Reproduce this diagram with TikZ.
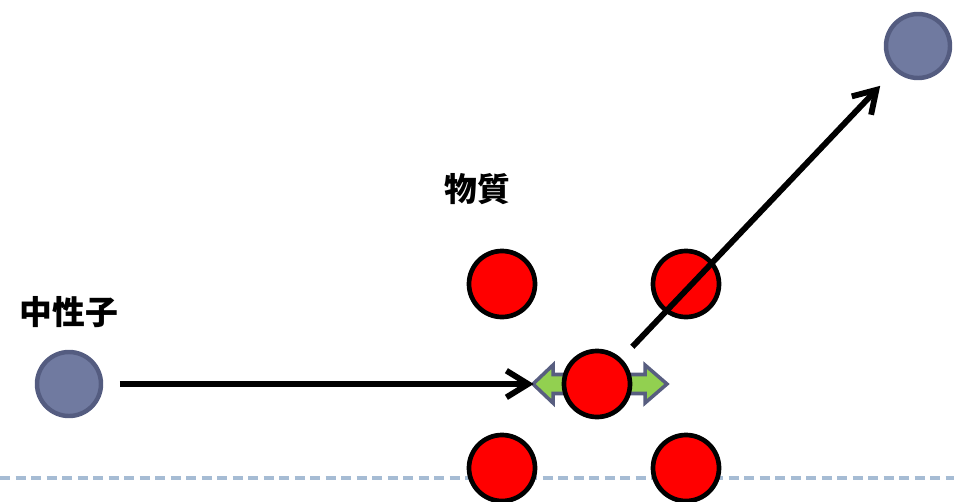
\documentclass[tikz,border=0pt]{standalone}
\usepackage{fontspec}
\newfontfamily\cjk{Noto Sans CJK JP}
\usetikzlibrary{arrows.meta}
\definecolor{neutronfill}{RGB}{112,122,160}
\definecolor{neutronedge}{RGB}{84,92,128}
\definecolor{kickfill}{RGB}{146,208,80}
\definecolor{kickedge}{RGB}{88,94,128}
\definecolor{floorline}{RGB}{166,188,212}

\begin{document}
\begin{tikzpicture}[x=0.03cm,y=-0.03cm,
    atom/.style={circle,draw=black,fill=red,line width=4pt,minimum size=1.98cm,inner sep=0pt},
    neutron/.style={circle,draw=neutronedge,fill=neutronfill,line width=3.8pt,minimum size=1.92cm,inner sep=0pt},
    track/.style={line width=5pt,-{Straight Barb[length=6.5mm,width=8mm]}},
    kick/.style={draw=kickedge,fill=kickfill,line width=3pt,line join=miter},
    floor/.style={floorline,line width=2.8pt,dash pattern=on 0.3cm off 0.165cm},
    tag/.style={font=\cjk\bfseries\fontsize{28}{32}\selectfont}]
  \useasboundingbox (0,0) rectangle (954,501);
  \draw[floor] (0,478) -- (954,478);

  % lattice of the material
  \foreach \x/\y/\n in {502/284/a1,686/284/a2,502/468/a3,686/468/a4}
    \node[atom] (\n) at (\x,\y) {};
  \begin{scope}[shift={(597,384)}]
    \draw[kick] (20,-9.5) -- (48,-9.5) -- (48,-19) -- (70,0) -- (48,19) -- (48,9.5) -- (20,9.5) -- cycle;
    \draw[kick] (-20,-9.5) -- (-44,-9.5) -- (-44,-19) -- (-64,0) -- (-44,19) -- (-44,9.5) -- (-20,9.5) -- cycle;
  \end{scope}
  \node[atom] (hit) at (597,384) {};

  % neutron in and out
  \node[neutron] (nin) at (69,384) {};
  \node[neutron] (nout) at (918,46) {};
  \draw[track,shorten <=0.5cm,shorten >=0.84cm] (nin) -- (hit);
  \draw[track,shorten <=0.48cm,shorten >=0.62cm] (hit) -- (nout);

  \node[tag] (ntext) at (69,312) {中性子};
  \node[tag] (mtext) at (477,189) {物質};
\end{tikzpicture}
\end{document}
